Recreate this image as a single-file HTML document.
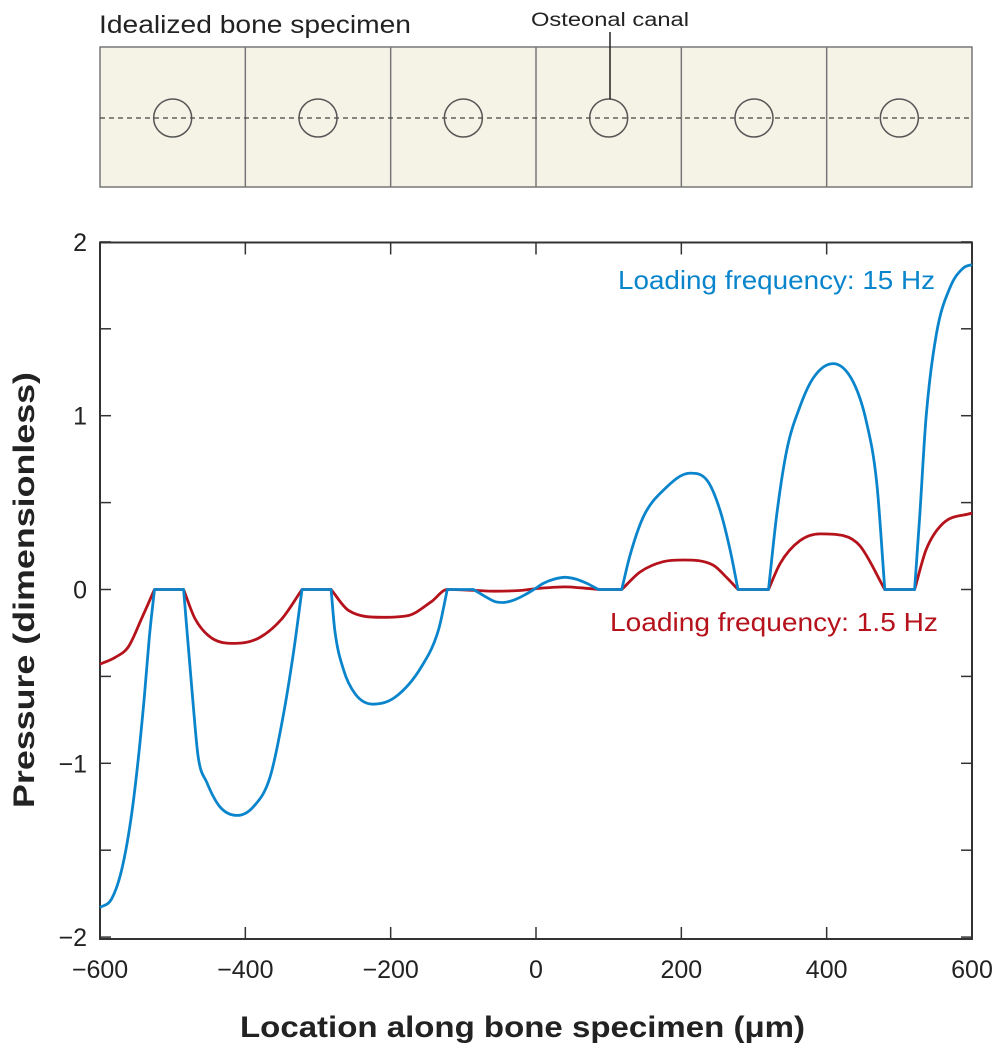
<!DOCTYPE html>
<html><head><meta charset="utf-8"><style>
body{margin:0;background:#fff;}
svg{display:block;font-family:"Liberation Sans",sans-serif;}
</style></head><body>
<svg id="chart" width="1005" height="1050" viewBox="0 0 1005 1050">
<g id="specimen">
<text x="99" y="33" font-size="25" fill="#222" textLength="312" lengthAdjust="spacingAndGlyphs">Idealized bone specimen</text>
<text x="610" y="26" font-size="19" fill="#222" text-anchor="middle" textLength="158" lengthAdjust="spacingAndGlyphs">Osteonal canal</text>
<rect x="100" y="47" width="872" height="140" fill="#f5f3e6" stroke="#777" stroke-width="1.5"/>
</g>
<g id="plot"></g>
</svg>
<script>
const blueX=[-600,-584,-570,-557,-548,-539,-532,-525,-485,-472,-465,-453,-435,-411,-389,-366,-348,-334,-322,-282,-277,-265,-249,-224,-194,-157,-134,-122,-86,-70,-56,-45,-30,-15,-3,10,25,40,55,70,86,118,129,148,175,212,235,253,267,278,320,331,345,363,382,409,437,455,469,480,521,528,537,551,570,588,600];
const blueY=[-1.83,-1.78,-1.61,-1.31,-1.0,-0.62,-0.27,0,0,-0.65,-0.96,-1.11,-1.25,-1.30,-1.25,-1.08,-0.73,-0.37,0,0,-0.23,-0.46,-0.6,-0.66,-0.62,-0.44,-0.23,0,0,-0.04,-0.07,-0.075,-0.06,-0.03,0,0.035,0.06,0.07,0.06,0.035,0,0,0.19,0.42,0.57,0.67,0.63,0.46,0.23,0,0,0.42,0.80,1.05,1.22,1.30,1.19,0.96,0.61,0,0,0.42,1.0,1.47,1.74,1.85,1.87];
const redX=[-600,-579,-561,-543,-525,-485,-469,-446,-414,-382,-350,-322,-282,-258,-212,-176,-144,-122,-86,-56,-20,0,40,61,86,118,143,175,203,244,262,278,320,336,363,391,423,446,480,521,537,560,600];
const redY=[-0.43,-0.39,-0.33,-0.17,0,0,-0.17,-0.28,-0.31,-0.28,-0.17,0,0,-0.12,-0.16,-0.15,-0.07,0,-0.005,-0.01,-0.005,0.005,0.015,0.01,0,0,0.10,0.16,0.17,0.14,0.07,0,0,0.15,0.28,0.32,0.31,0.25,0,0,0.23,0.38,0.44];
const xTicks=[-600,-400,-200,0,200,400,600];
const yTicks=[-2,-1,0,1,2];
const yMinor=[-2,-1.5,-1,-0.5,0,0.5,1,1.5,2];
const canals=[0,1,2,3,4,5];

const NS="http://www.w3.org/2000/svg";
const L=100,R=972,T=242.5,B=939;
const sx=v=>L+(v+600)*(R-L)/1200;
const sy=v=>589.5-v*173.8;
function mk(tag,attrs,parent){const e=document.createElementNS(NS,tag);for(const k in attrs)e.setAttribute(k,attrs[k]);parent.appendChild(e);return e;}
const spec=document.getElementById('specimen');
const cw=(R-L)/6;
canals.forEach(i=>{
  if(i>0){const d=mk('line',{x1:L+cw*i,y1:47,x2:L+cw*i,y2:187,stroke:'#777','stroke-width':1.5},spec);
  
  }
});
const dl=mk('line',{x1:L,y1:118,x2:R,y2:118,stroke:'#444','stroke-width':1.2,'stroke-dasharray':'5 4'},spec);


canals.forEach(i=>{
  const c=mk('circle',{cx:L+cw*(i+0.5),cy:118,r:19,fill:'none',stroke:'#555','stroke-width':1.5},spec);
  
  
});
const ld=mk('line',{x1:610,y1:32,x2:610,y2:99,stroke:'#222','stroke-width':1.5},spec);



const g=document.getElementById('plot');
const box=mk('rect',{x:L,y:T,width:R-L,height:B-T,fill:'none',stroke:'#333','stroke-width':2},g);


yMinor.forEach(v=>{
  const a=mk('line',{x1:L,y1:sy(v),x2:L+11,y2:sy(v),stroke:'#333','stroke-width':1.5},g);
  
  
  const b=mk('line',{x1:R-11,y1:sy(v),x2:R,y2:sy(v),stroke:'#333','stroke-width':1.5},g);
  
  
});
xTicks.forEach(v=>{
  const a=mk('line',{x1:sx(v),y1:B,x2:sx(v),y2:B-12,stroke:'#333','stroke-width':1.5},g);
  
  
  const b=mk('line',{x1:sx(v),y1:T,x2:sx(v),y2:T+12,stroke:'#333','stroke-width':1.5},g);
  
  
  const t=mk('text',{x:sx(v),y:978,'font-size':25,fill:'#222','text-anchor':'middle'},g);
  t.textContent=(v<0?'\u2212'+(-v):String(v));
  
  
});
yTicks.forEach(v=>{
  const t=mk('text',{x:87,y:sy(v)+9,'font-size':25,fill:'#222','text-anchor':'end'},g);
  t.textContent=(v<0?'\u2212'+(-v):String(v));
  
  
});
// monotone cubic path with sharp corners where a curve meets a flat segment
function monoPath(xs,ys){
  const X=xs.map(sx),Y=ys.map(sy),n=X.length;
  const d=[],m=new Array(n);
  for(let i=0;i<n-1;i++)d.push((Y[i+1]-Y[i])/(X[i+1]-X[i]));
  m[0]=d[0];m[n-1]=d[n-2];
  for(let i=1;i<n-1;i++){m[i]=(d[i-1]*d[i]<=0)?0:(d[i-1]+d[i])/2;}
  for(let i=0;i<n-1;i++){
    if(d[i]===0)continue;
    const a=m[i]/d[i],b=m[i+1]/d[i],s=a*a+b*b;
    if(s>9){const t=3/Math.sqrt(s);m[i]=t*a*d[i];m[i+1]=t*b*d[i];}
  }
  let p='M'+X[0].toFixed(1)+','+Y[0].toFixed(1);
  for(let i=0;i<n-1;i++){
    const h=(X[i+1]-X[i])/3;
    let m0=m[i],m1=m[i+1];
    if(d[i]===0){m0=0;m1=0;}
    else{
      if(i>0&&d[i-1]===0)m0=d[i];
      if(i<n-2&&d[i+1]===0)m1=d[i];
    }
    p+=' C'+(X[i]+h).toFixed(1)+','+(Y[i]+m0*h).toFixed(1)+' '+(X[i+1]-h).toFixed(1)+','+(Y[i+1]-m1*h).toFixed(1)+' '+X[i+1].toFixed(1)+','+Y[i+1].toFixed(1);
  }
  return p;
}
function line(xs,ys,color,name){
  const p=mk('path',{d:monoPath(xs,ys),fill:'none',stroke:color,'stroke-width':2.8,'stroke-linejoin':'round'},g);
  
  
}
line(redX,redY,'#b5121b','series-1-5hz');
line(blueX,blueY,'#0a85cc','series-15hz');
const l1=mk('text',{x:618,y:289,'font-size':26,fill:'#0a85cc',textLength:317,lengthAdjust:'spacingAndGlyphs'},g);
l1.textContent='Loading frequency: 15 Hz';


const l2=mk('text',{x:610,y:631,'font-size':26,fill:'#b5121b',textLength:328,lengthAdjust:'spacingAndGlyphs'},g);
l2.textContent='Loading frequency: 1.5 Hz';


const xt=mk('text',{x:240,y:1037,'font-size':30,'font-weight':'bold',fill:'#222',textLength:565,lengthAdjust:'spacingAndGlyphs'},g);
xt.textContent='Location along bone specimen (\u03bcm)';


const yt=mk('text',{x:0,y:0,'font-size':30,'font-weight':'bold',fill:'#222',textLength:436,lengthAdjust:'spacingAndGlyphs',transform:'translate(34,808) rotate(-90)'},g);
yt.textContent='Pressure (dimensionless)';


</script>
</body></html>
